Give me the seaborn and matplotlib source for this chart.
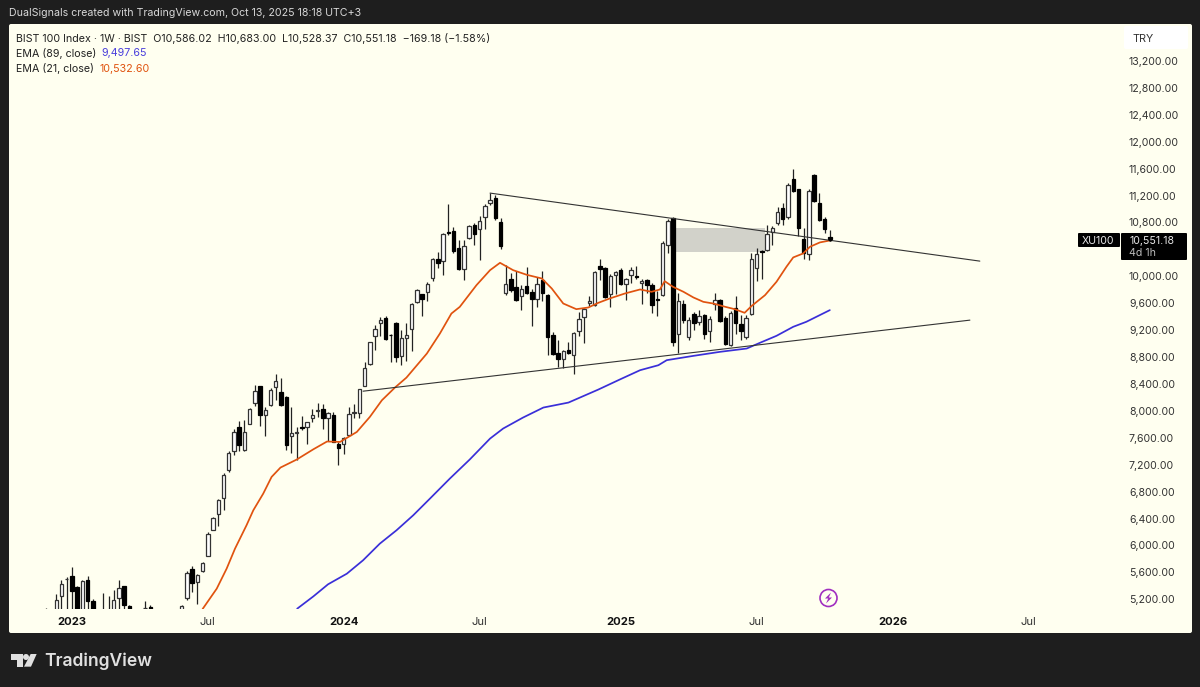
import pandas as pd
import numpy as np
import matplotlib
matplotlib.use("Agg")
import matplotlib.pyplot as plt
import seaborn as sns
from matplotlib.patches import FancyBboxPatch, Polygon, Circle
from matplotlib.transforms import IdentityTransform

# Weekly candles, oldest first, last bar is the week of 13 Oct 2025
last_week = pd.Timestamp("2025-10-13")

opens = [5000,4960,5000,5244,5497,5547,5383,5010,5492,5180,
         5020,4930,5040,4990,5215,5393,5101,5030,4980,5070,
         5086,5040,5000,4960,4930,4960,5010,5215,5646,5458,
         5621,5849,6236,6474,6707,7118,7411,7768,7421,7812,
         8120,8367,7936,8090,8357,8278,8209,7629,7678,7763,
         7763,7901,8000,8030,7901,7935,7504,7514,7648,7970,
         7970,8376,8694,9110,9303,9388,9135,9313,8818,9090,
         9224,9616,9730,9774,9968,10255,10235,10652,10677,10414,
         10111,10563,10761,10696,10885,11083,11157,10810,9745,9958,
         9844,9710,9859,9770,9661,9943,9725,9130,8863,8778,
         8912,8838,9190,9398,9601,9567,10147,10127,9730,10018,
         10087,9884,10013,10003,9904,9943,9864,9666,9725,10459,
         10860,9140,9587,9091,9433,9324,9423,9190,9592,9646,
         9388,8982,9527,9289,9101,9438,10122,10370,10395,10657,
         10786,11014,10885,11445,11292,10548,10330,11510,11084,10856,
         10586.02]
highs = [5066,5040,5274,5492,5532,5681,5393,5482,5552,5210,
         5050,5299,5244,5334,5482,5403,5111,5050,5040,5175,
         5120,5061,5030,5000,5000,5040,5120,5621,5700,5582,
         5755,6201,6424,6687,7078,7406,7738,7847,7872,8040,
         8382,8377,8060,8333,8546,8496,8219,8060,7763,7921,
         7842,8030,8119,8100,7986,7985,7539,7613,8059,8099,
         8332,8728,9026,9274,9398,9408,9150,9323,9199,9308,
         9606,9819,9735,9918,10265,10359,10637,11068,10726,10538,
         10538,10761,10796,10895,11073,11232,11207,10860,10166,10052,
         10082,9869,10142,9805,9993,10082,9735,9170,9051,8902,
         9026,9175,9472,9527,9705,10072,10256,10142,10033,10082,
         10117,9973,10142,10152,9953,9953,9894,9785,10528,10845,
         10875,9745,9646,9398,9463,9497,9438,9408,9745,9656,
         9408,9487,9706,9423,9418,10340,10414,10390,10761,10746,
         11034,11084,11381,11589,11302,10712,11292,11520,11232,10875,
         10683.00]
lows = [4950,4900,4960,5000,5000,5030,4950,4980,5030,4990,
        4930,4900,4960,4960,5036,5040,5000,4950,4950,5030,
        5010,4970,4930,4900,4900,4930,4990,5195,5304,5135,
        5611,5839,6226,6285,6523,7098,7346,7406,7406,7802,
        8080,7782,7634,8080,8159,8080,7425,7376,7277,7723,
        7505,7837,7911,7733,7554,7534,7192,7365,7638,7901,
        7901,8367,8679,8902,9110,9051,8723,8728,8689,8738,
        8892,9606,9408,9636,9928,10126,10017,10612,10349,10092,
        9943,10548,10473,10240,10696,11058,10835,10404,9720,9769,
        9636,9507,9735,9259,9547,9636,8833,8833,8654,8635,
        8843,8545,9111,9011,9562,9557,9943,9685,9547,9735,
        9864,9646,9904,9953,9596,9745,9448,9408,9715,10340,
        8972,8863,9299,9051,9200,9274,9076,9026,9507,9324,
        8977,8962,9150,9061,9071,9428,9934,9963,10380,10459,
        10761,10761,10846,11252,10598,10261,10241,11108,10826,10637,
        10528.37]
closes = [5020,4990,5195,5433,5507,5319,5000,5472,5170,5020,
          4960,5040,5000,5195,5363,5111,5030,4980,5010,5076,
          5040,5000,4960,4930,4960,5000,5096,5596,5448,5562,
          5745,6166,6414,6672,7049,7381,7693,7495,7693,8030,
          8298,7941,8010,8308,8442,8090,7495,7673,7688,7743,
          7832,7936,8010,7891,7966,7539,7450,7603,7960,7980,
          8322,8644,9021,9224,9353,9075,9125,8803,9085,9125,
          9596,9794,9670,9893,10255,10201,10622,10642,10379,10116,
          10444,10746,10622,10825,11048,11133,10870,10453,9883,9804,
          9646,9819,9745,9661,9879,9755,9091,8848,8778,8892,
          8863,9165,9368,9517,9626,10062,10107,9695,10003,10062,
          9884,9958,10087,9983,9933,9864,9577,9646,10489,10826,
          9021,9636,9358,9358,9299,9408,9150,9368,9641,9339,
          8992,9458,9299,9190,9378,10251,10330,10355,10628,10717,
          10950,10846,11351,11267,10717,10350,11272,11123,10836,10697,
          10551.18]

# EMA lines, position given as weeks before the last bar
ema21_weeks = [120,117.3,115.4,113.8,111.6,110.3,108.4,106.8,105.1,102,98.8,96.2,93.7,90.5,88,85.7,83.2,81,
               77.1,74.6,72.4,70.8,67.6,65,63.1,60.6,58,55.1,53.2,51,48.5,46.2,44.3,42.1,39.2,36.3,34.1,32.5,
               31.6,30,28,26.1,24.2,22.3,20,18.2,16.3,15,12.4,10.2,8.3,7,5.1,3.8,1.9,0]
ema21_vals = [5056,5358,5656,5953,6300,6523,6771,7019,7158,7277,7430,7545,7539,7687,7911,8158,8347,8495,
              8852,9150,9447,9546,9869,10092,10201,10092,10023,9968,9819,9596,9512,9537,9606,9671,9745,9805,9770,9805,
              9928,9844,9770,9686,9621,9596,9547,9512,9458,9557,9720,9919,10142,10281,10340,10439,10504,10532.6]
ema89_weeks = [101.9,98.8,96,92.4,89.3,86.1,82.9,79.7,76.5,72.7,68.9,65,62.5,58.7,54.8,50,
               44.3,40.2,36.3,32.8,31.2,26.1,21,15.9,13.4,10.2,7,4.5,0]
ema89_vals = [5061,5244,5423,5581,5780,6027,6226,6449,6697,6994,7277,7589,7738,7901,8050,8124,
              8317,8466,8605,8679,8754,8818,8878,8927,9011,9116,9250,9324,9497.65]

# Drawn trendlines and the grey box
upper_weeks = [65,-28.7]
upper_vals = [11237,10226]
lower_weeks = [89.3,-26.8]
lower_vals = [8293,9349]
box_weeks = [29.6,12.4]
box_vals = [10365,10712]

price_ticks = [5200,5600,6000,6400,6800,7200,7600,8000,8400,8800,9200,9600,10000,
               10800,11200,11600,12000,12400,12800,13200]
year_ticks = ["2023-01-02","2024-01-01","2025-01-06","2026-01-05"]
year_labels = ["2023","2024","2025","2026"]
month_ticks = ["2023-07-03","2024-07-01","2025-07-07","2026-07-06"]

def week_date(w):
    return last_week - pd.to_timedelta(np.array(w, dtype=float)*7, unit="D")

df = pd.DataFrame({"open":opens, "high":highs, "low":lows, "close":closes})
df["date"] = pd.date_range(end=last_week, periods=len(df), freq="7D")
up = df["close"] >= df["open"]

sns.set_theme(style="white")
plt.rcParams['font.family'] = ['Inter', 'DejaVu Sans']

BG = "#1e1e1e"
PANEL = "#fffff0"
fig = plt.figure(figsize=(12,6.87), dpi=100, facecolor=BG)
H = 687

def fx(x):
    return x/1200
def fy(y):
    return 1-y/H

# cream panel
fig.add_artist(FancyBboxPatch((9+2,H-633+2), 1183-4, 609-4, boxstyle="round,pad=2", fc=PANEL, ec="none",
                              transform=IdentityTransform(), zorder=-5))

ax = fig.add_axes([fx(9), fy(609), (1122-9)/1200, 585/H])
ax.set_facecolor("none")
for s in ax.spines.values():
    s.set_visible(False)

# grey box
ax.fill_between(week_date(box_weeks), box_vals[0], box_vals[1], color="#d2d2ca", lw=0, zorder=1)

# candles
ax.vlines(df["date"], df["low"], df["high"], color="#222222", lw=0.9, zorder=2)
ax.bar(df["date"][up], (df["close"]-df["open"])[up], bottom=df["open"][up], width=4.6,
       color="white", edgecolor="#333333", linewidth=0.9, zorder=3)
ax.bar(df["date"][~up], (df["open"]-df["close"])[~up], bottom=df["close"][~up], width=4.6,
       color="black", edgecolor="black", linewidth=0.9, zorder=3)

# EMAs and trendlines
ema21 = pd.DataFrame({"date":week_date(ema21_weeks), "val":ema21_vals})
ema89 = pd.DataFrame({"date":week_date(ema89_weeks), "val":ema89_vals})
sns.lineplot(data=ema21, x="date", y="val", color="#e0530f", lw=1.25, ax=ax, estimator=None, sort=False, zorder=4)
sns.lineplot(data=ema89, x="date", y="val", color="#3a2fd8", lw=1.25, ax=ax, estimator=None, sort=False, zorder=4)
upper = pd.DataFrame({"date":week_date(upper_weeks), "val":upper_vals})
lower = pd.DataFrame({"date":week_date(lower_weeks), "val":lower_vals})
sns.lineplot(data=upper, x="date", y="val", color="#333333", lw=0.8, ax=ax, estimator=None, sort=False, zorder=4)
sns.lineplot(data=lower, x="date", y="val", color="#333333", lw=0.8, ax=ax, estimator=None, sort=False, zorder=4)

ax.set_xlim(last_week - pd.Timedelta(days=157.04*7), last_week + pd.Timedelta(days=55.9*7))
ax.set_ylim(5056, 13750)
ax.set_xlabel("")
ax.set_ylabel("")

# axes labels
ax.yaxis.tick_right()
ax.set_yticks(price_ticks)
ax.set_yticklabels([f"{p:,.2f}" for p in price_ticks], fontsize=7.6, color="#333333")
ax.tick_params(axis="y", length=0, pad=5)
all_ticks = pd.to_datetime(year_ticks + month_ticks)
ax.set_xticks(all_ticks)
ax.set_xticklabels(year_labels + ["Jul"]*4, fontsize=8.1, color="#333333")
for lab in ax.get_xticklabels()[:4]:
    lab.set_fontweight("bold")
    lab.set_color("#111111")
ax.tick_params(axis="x", length=0, pad=5.5)
ax.grid(False)

# header and legend text
fig.text(fx(9), fy(12.5), "DualSignals created with TradingView.com, Oct 13, 2025 18:18 UTC+3",
         color="#d8d8d8", fontsize=7.65, va="center")
fig.text(fx(16), fy(38.5), "BIST 100 Index · 1W · BIST  O10,586.02  H10,683.00  L10,528.37  C10,551.18  −169.18 (−1.58%)",
         color="#222222", fontsize=7.7, va="center")
fig.text(fx(16), fy(53.5), "EMA (89, close)", color="#222222", fontsize=7.7, va="center")
fig.text(fx(101.5), fy(53.5), "9,497.65", color="#4a3fdc", fontsize=7.7, va="center")
fig.text(fx(16), fy(68.5), "EMA (21, close)", color="#222222", fontsize=7.7, va="center")
fig.text(fx(99.5), fy(68.5), "10,532.60", color="#e0530f", fontsize=7.7, va="center")

# TRY box
fig.add_artist(FancyBboxPatch((1126,H-49+2), 60, 19, boxstyle="round,pad=2", fc="#ffffff", ec="none",
                              transform=IdentityTransform(), zorder=5))
fig.text(fx(1132), fy(38.5), "TRY", color="#333333", fontsize=7.8, va="center", zorder=6)

# price tag
fig.add_artist(FancyBboxPatch((1079,H-247+1), 40, 12, boxstyle="round,pad=1", fc="black", ec="none",
                              transform=IdentityTransform(), zorder=5))
fig.add_artist(FancyBboxPatch((1122,H-260+1), 64, 25, boxstyle="round,pad=1", fc="black", ec="none",
                              transform=IdentityTransform(), zorder=5))
fig.text(fx(1082), fy(240.5), "XU100", color="#e8e8e8", fontsize=7.6, va="center", zorder=6)
fig.text(fx(1129), fy(240.5), "10,551.18", color="#e8e8e8", fontsize=7.6, va="center", zorder=6)
fig.text(fx(1129), fy(253), "4d 1h", color="#bbbbbb", fontsize=7.6, va="center", zorder=6)

# last price dot
ax.scatter([last_week], [closes[-1]], s=4, color="black", zorder=6)

# lightning icon
fig.add_artist(Circle((828.5,H-598), 8.5, fc="none", ec="#a12fc0", lw=1.2, transform=IdentityTransform(), zorder=5))
fig.add_artist(Polygon([(831,H-592.5),(825,H-598.5),(828.2,H-598.5),(826,H-603.5),(832,H-597.5),(828.8,H-597.5)],
                       closed=True, fc="#a12fc0", ec="none", transform=IdentityTransform(), zorder=5))

# TradingView logo
def px(pts):
    return [(x/3, H-(580+y/3)) for x, y in pts]
fig.add_artist(Polygon(px([(32,222),(70,222),(70,260),(52,260),(52,240),(32,240)]), closed=True, fc="#e0e0e0", ec="none",
                       transform=IdentityTransform(), zorder=5))
fig.add_artist(Circle((78/3,H-(580+231/3)), 3, fc="#e0e0e0", ec="none", transform=IdentityTransform(), zorder=5))
fig.add_artist(Polygon(px([(92,222),(110,222),(93,260),(72,260)]), closed=True, fc="#e0e0e0", ec="none",
                       transform=IdentityTransform(), zorder=5))
fig.text(fx(44), fy(661), "TradingView", color="#e0e0e0", fontsize=12.6, fontweight="semibold", va="center")

plt.savefig("out.png", dpi=100, facecolor=BG)
